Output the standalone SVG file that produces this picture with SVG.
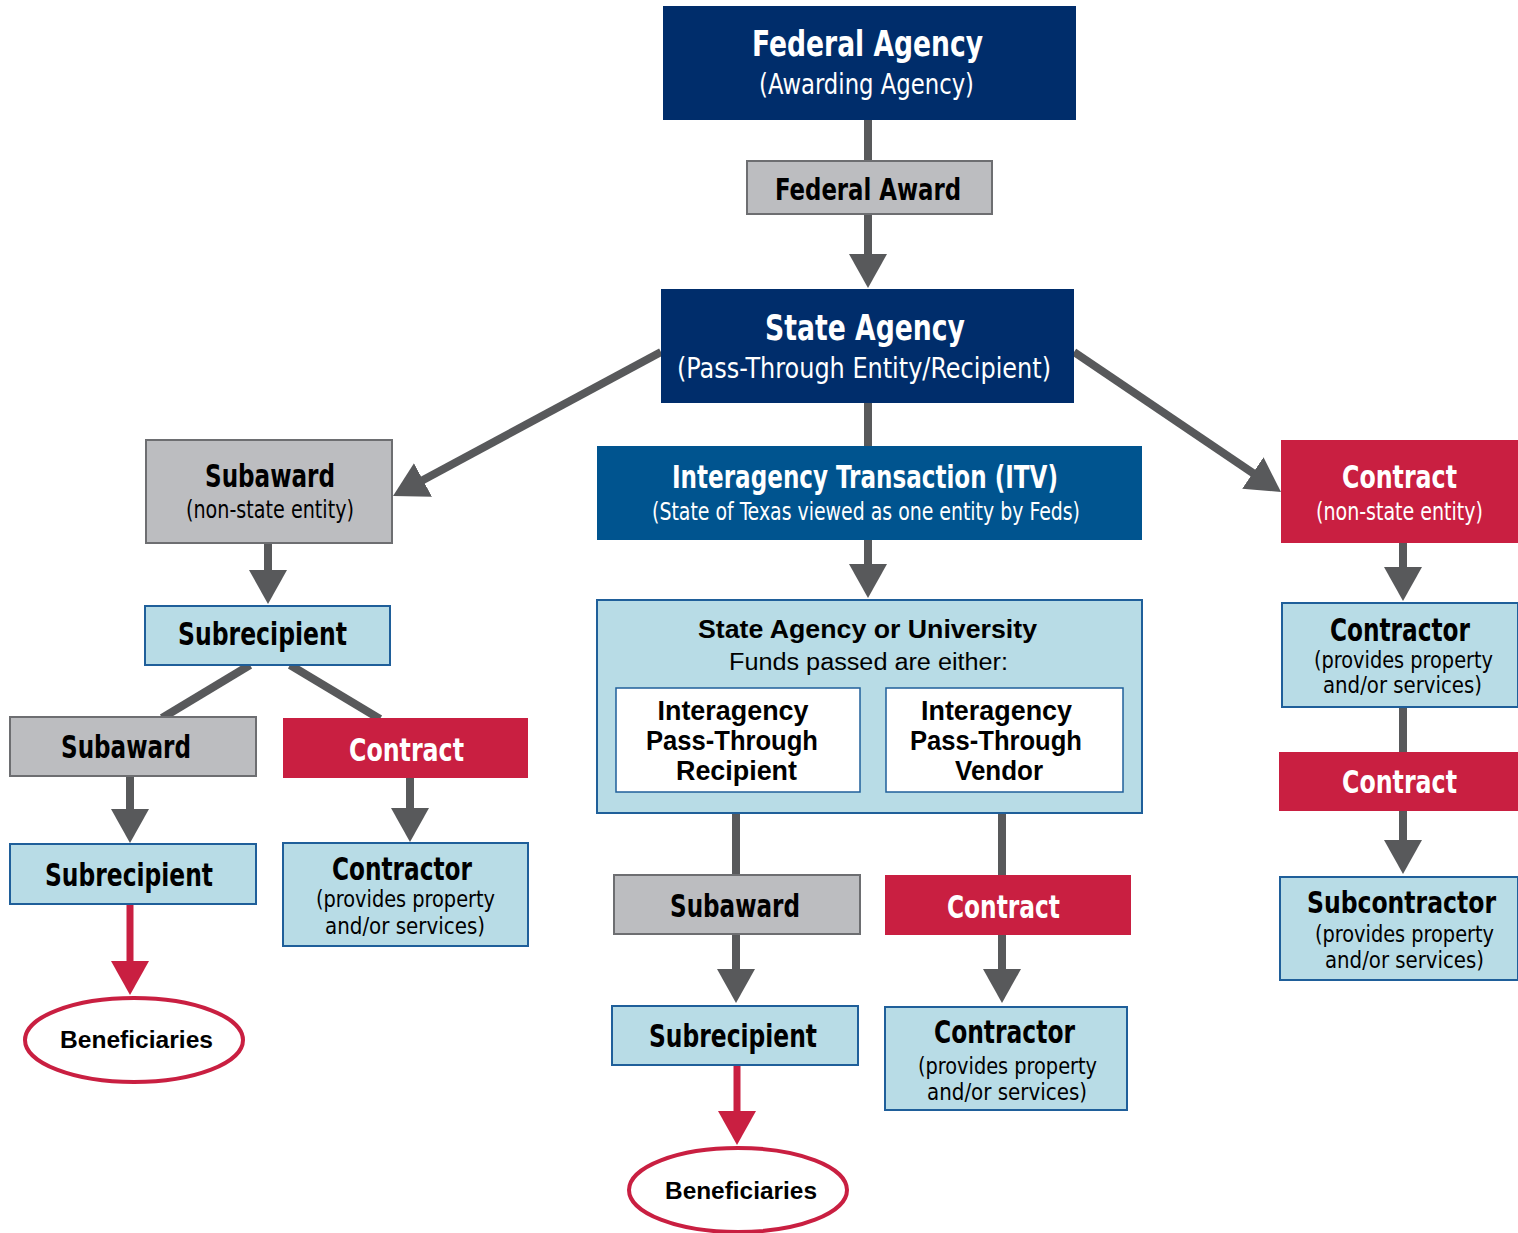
<svg xmlns="http://www.w3.org/2000/svg" width="1518" height="1233" viewBox="0 0 1518 1233">
<style>
.c{font-family:"Liberation Sans Narrow","DejaVu Sans Condensed","Roboto Condensed",sans-serif;font-weight:bold;text-anchor:middle}
.s{font-family:"Liberation Sans Narrow","DejaVu Sans Condensed","Roboto Condensed",sans-serif;font-weight:normal;text-anchor:middle}
.f{font-family:"Liberation Sans",Arial,sans-serif;font-weight:bold;text-anchor:middle}
.fn{font-family:"Liberation Sans",Arial,sans-serif;font-weight:normal;text-anchor:middle}
.w{fill:#ffffff}
.k{fill:#000000}
.navy{fill:#002D6B}
.itv{fill:#00548F}
.red{fill:#C91F41}
.gray{fill:#BCBDC0;stroke:#6D6E71;stroke-width:2}
.lb{fill:#B8DCE6;stroke:#1F5F9A;stroke-width:2}
.wb{fill:#ffffff;stroke:#1F5F9A;stroke-width:1.5}
.ln{stroke:#58595B;stroke-width:8;fill:none}
.lr{stroke:#C91F41;stroke-width:7;fill:none}
.arr{marker-end:url(#ah)}
.arrr{marker-end:url(#ahr)}
</style>
<defs>
<marker id="ah" markerUnits="userSpaceOnUse" markerWidth="34" markerHeight="38" viewBox="0 0 34 38" refX="2" refY="19" orient="auto"><path d="M0 0L34 19L0 38z" fill="#58595B"/></marker>
<marker id="ahr" markerUnits="userSpaceOnUse" markerWidth="34" markerHeight="38" viewBox="0 0 34 38" refX="2" refY="19" orient="auto"><path d="M0 0L34 19L0 38z" fill="#C91F41"/></marker>
</defs>
<g id="connectors">
<line class="ln" x1="868" y1="120" x2="868" y2="162"/>
<line class="ln arr" x1="868" y1="214" x2="868" y2="256"/>
<line class="ln" x1="868" y1="403" x2="868" y2="447"/>
<line class="ln arr" x1="868" y1="540" x2="868" y2="566"/>
<line class="ln arr" x1="661" y1="352" x2="421.2" y2="480.9"/>
<line class="ln arr" x1="1074" y1="352" x2="1254.5" y2="474.1"/>
<line class="ln arr" x1="268" y1="543" x2="268" y2="572"/>
<line class="ln" x1="250" y1="665" x2="162" y2="718"/>
<line class="ln" x1="290" y1="665" x2="380" y2="719"/>
<line class="ln arr" x1="130" y1="776" x2="130" y2="811"/>
<line class="ln arr" x1="410" y1="778" x2="410" y2="810"/>
<line class="lr arrr" x1="130" y1="904" x2="130" y2="963"/>
<line class="ln arr" x1="1403" y1="543" x2="1403" y2="569"/>
<line class="ln" x1="1403" y1="707" x2="1403" y2="753"/>
<line class="ln arr" x1="1403" y1="811" x2="1403" y2="842"/>
<line class="ln" x1="736" y1="813" x2="736" y2="876"/>
<line class="ln" x1="1002" y1="813" x2="1002" y2="876"/>
<line class="ln arr" x1="736" y1="934" x2="736" y2="971"/>
<line class="ln arr" x1="1002" y1="934" x2="1002" y2="971"/>
<line class="lr arrr" x1="737" y1="1065" x2="737" y2="1113"/>
</g>
<g id="federal-agency">
<rect class="navy" x="663" y="6" width="413" height="114"/>
<text class="c w" x="867.5" y="56" font-size="36" textLength="231" lengthAdjust="spacingAndGlyphs">Federal Agency</text>
<text class="s w" x="866.5" y="94" font-size="28" textLength="215" lengthAdjust="spacingAndGlyphs">(Awarding Agency)</text>
</g>
<g id="federal-award">
<rect class="gray" x="747" y="161" width="245" height="53"/>
<text class="c k" x="868" y="200" font-size="31" textLength="186" lengthAdjust="spacingAndGlyphs">Federal Award</text>
</g>
<g id="state-agency">
<rect class="navy" x="661" y="289" width="413" height="114"/>
<text class="c w" x="865" y="340" font-size="36" textLength="200" lengthAdjust="spacingAndGlyphs">State Agency</text>
<text class="s w" x="864" y="378" font-size="28" textLength="374" lengthAdjust="spacingAndGlyphs">(Pass-Through Entity/Recipient)</text>
</g>
<g id="itv">
<rect class="itv" x="597" y="446" width="545" height="94"/>
<text class="c w" x="865" y="488" font-size="32" textLength="386" lengthAdjust="spacingAndGlyphs">Interagency Transaction (ITV)</text>
<text class="s w" x="866" y="520" font-size="24" textLength="428" lengthAdjust="spacingAndGlyphs">(State of Texas viewed as one entity by Feds)</text>
</g>
<g id="state-agency-or-university">
<rect class="lb" x="597" y="600" width="545" height="213"/>
<text class="f k" x="867.5" y="638" font-size="26" textLength="339" lengthAdjust="spacingAndGlyphs">State Agency or University</text>
<text class="fn k" x="868.5" y="670" font-size="23" textLength="279" lengthAdjust="spacingAndGlyphs">Funds passed are either:</text>
<g id="pt-recipient">
<rect class="wb" x="616" y="688" width="244" height="104"/>
<text class="f k" x="733" y="720" font-size="27" textLength="151" lengthAdjust="spacingAndGlyphs">Interagency</text>
<text class="f k" x="732" y="750" font-size="27" textLength="172" lengthAdjust="spacingAndGlyphs">Pass-Through</text>
<text class="f k" x="736.5" y="780" font-size="27" textLength="121" lengthAdjust="spacingAndGlyphs">Recipient</text>
</g>
<g id="pt-vendor">
<rect class="wb" x="886" y="688" width="237" height="104"/>
<text class="f k" x="996.5" y="720" font-size="27" textLength="151" lengthAdjust="spacingAndGlyphs">Interagency</text>
<text class="f k" x="996" y="750" font-size="27" textLength="172" lengthAdjust="spacingAndGlyphs">Pass-Through</text>
<text class="f k" x="999" y="780" font-size="27" textLength="88" lengthAdjust="spacingAndGlyphs">Vendor</text>
</g>
</g>
<g id="subaward-nonstate">
<rect class="gray" x="146" y="440" width="246" height="103"/>
<text class="c k" x="270" y="487" font-size="32" textLength="130" lengthAdjust="spacingAndGlyphs">Subaward</text>
<text class="s k" x="270" y="518" font-size="24" textLength="168" lengthAdjust="spacingAndGlyphs">(non-state entity)</text>
</g>
<g id="subrecipient-1">
<rect class="lb" x="145" y="606" width="245" height="59"/>
<text class="c k" x="262.5" y="645" font-size="32" textLength="169" lengthAdjust="spacingAndGlyphs">Subrecipient</text>
</g>
<g id="subaward-2">
<rect class="gray" x="10" y="717" width="246" height="59"/>
<text class="c k" x="126" y="758" font-size="32" textLength="130" lengthAdjust="spacingAndGlyphs">Subaward</text>
</g>
<g id="contract-2">
<rect class="red" x="283" y="718" width="245" height="60"/>
<text class="c w" x="406.5" y="761" font-size="32" textLength="115" lengthAdjust="spacingAndGlyphs">Contract</text>
</g>
<g id="subrecipient-2">
<rect class="lb" x="10" y="844" width="246" height="60"/>
<text class="c k" x="129" y="886" font-size="32" textLength="168" lengthAdjust="spacingAndGlyphs">Subrecipient</text>
</g>
<g id="contractor-2">
<rect class="lb" x="283" y="843" width="245" height="103"/>
<text class="c k" x="402" y="880" font-size="32" textLength="140" lengthAdjust="spacingAndGlyphs">Contractor</text>
<text class="s k" x="405.5" y="907" font-size="23" textLength="179" lengthAdjust="spacingAndGlyphs">(provides property</text>
<text class="s k" x="405" y="934" font-size="23" textLength="160" lengthAdjust="spacingAndGlyphs">and/or services)</text>
</g>
<g id="beneficiaries-1">
<ellipse cx="134" cy="1040" rx="109" ry="42" fill="#ffffff" stroke="#C91F41" stroke-width="4"/>
<text class="f k" x="136.5" y="1048" font-size="23" textLength="153" lengthAdjust="spacingAndGlyphs">Beneficiaries</text>
</g>
<g id="contract-nonstate">
<rect class="red" x="1281" y="440" width="237" height="103"/>
<text class="c w" x="1399.5" y="488" font-size="32" textLength="115" lengthAdjust="spacingAndGlyphs">Contract</text>
<text class="s w" x="1399.5" y="520" font-size="24" textLength="167" lengthAdjust="spacingAndGlyphs">(non-state entity)</text>
</g>
<g id="contractor-r">
<rect class="lb" x="1282" y="603" width="236" height="104"/>
<text class="c k" x="1400" y="641" font-size="32" textLength="140" lengthAdjust="spacingAndGlyphs">Contractor</text>
<text class="s k" x="1403.5" y="668" font-size="23" textLength="179" lengthAdjust="spacingAndGlyphs">(provides property</text>
<text class="s k" x="1402.5" y="693" font-size="23" textLength="159" lengthAdjust="spacingAndGlyphs">and/or services)</text>
</g>
<g id="contract-r2">
<rect class="red" x="1279" y="752" width="239" height="59"/>
<text class="c w" x="1399.5" y="793" font-size="32" textLength="115" lengthAdjust="spacingAndGlyphs">Contract</text>
</g>
<g id="subcontractor">
<rect class="lb" x="1280" y="877" width="238" height="103"/>
<text class="c k" x="1401.5" y="913" font-size="30" textLength="189" lengthAdjust="spacingAndGlyphs">Subcontractor</text>
<text class="s k" x="1404.5" y="942" font-size="23" textLength="179" lengthAdjust="spacingAndGlyphs">(provides property</text>
<text class="s k" x="1404.5" y="968" font-size="23" textLength="159" lengthAdjust="spacingAndGlyphs">and/or services)</text>
</g>
<g id="subaward-3">
<rect class="gray" x="614" y="875" width="246" height="59"/>
<text class="c k" x="735" y="917" font-size="32" textLength="130" lengthAdjust="spacingAndGlyphs">Subaward</text>
</g>
<g id="contract-3">
<rect class="red" x="885" y="875" width="246" height="60"/>
<text class="c w" x="1003.5" y="918" font-size="32" textLength="113" lengthAdjust="spacingAndGlyphs">Contract</text>
</g>
<g id="subrecipient-3">
<rect class="lb" x="612" y="1006" width="246" height="59"/>
<text class="c k" x="733" y="1047" font-size="32" textLength="168" lengthAdjust="spacingAndGlyphs">Subrecipient</text>
</g>
<g id="contractor-3">
<rect class="lb" x="885" y="1007" width="242" height="103"/>
<text class="c k" x="1004.5" y="1043" font-size="32" textLength="141" lengthAdjust="spacingAndGlyphs">Contractor</text>
<text class="s k" x="1007.5" y="1074" font-size="23" textLength="179" lengthAdjust="spacingAndGlyphs">(provides property</text>
<text class="s k" x="1007" y="1100" font-size="23" textLength="160" lengthAdjust="spacingAndGlyphs">and/or services)</text>
</g>
<g id="beneficiaries-2">
<ellipse cx="738" cy="1190" rx="109" ry="42" fill="#ffffff" stroke="#C91F41" stroke-width="4"/>
<text class="f k" x="741" y="1199" font-size="23" textLength="152" lengthAdjust="spacingAndGlyphs">Beneficiaries</text>
</g>
</svg>
